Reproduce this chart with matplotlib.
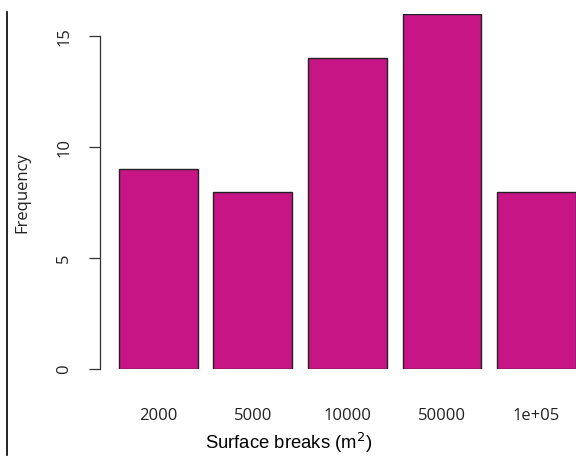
import numpy as np
from matplotlib import pyplot as plt
from matplotlib.lines import Line2D

# bar counts per surface break
breaks = ['2000', '5000', '10000', '50000', '1e+05']
counts = [9, 8, 14, 16, 8]

fig = plt.figure(figsize=(5.76, 4.59), dpi=100)
ax = fig.add_axes([100/576, 90/459, 476/576, 355/459])

# R barplot layout: width 1, space 0.2
pos = 0.2 + np.arange(len(counts)) * 1.2 + 0.5
ax.bar(pos, counts, width=1.0, color='#C71585', edgecolor='#222222', linewidth=1.0)

ax.set_xlim(-0.04, 6.0)
ax.set_ylim(0, 16)

for s in ['top', 'right', 'bottom']:
    ax.spines[s].set_visible(False)
ax.spines['left'].set_bounds(0, 15)
ax.spines['left'].set_linewidth(0.9)
ax.spines['left'].set_color('#333333')

ax.set_yticks([0, 5, 10, 15])
ax.set_yticklabels(['0', '5', '10', '15'], rotation=90, va='center',
                   fontsize=12, family='Open Sans', color='#222222')
ax.tick_params(axis='y', length=8, width=0.9, color='#333333', pad=12)

ax.set_xticks(pos)
ax.set_xticklabels(breaks, fontsize=12, family='Open Sans', color='#222222')
ax.tick_params(axis='x', length=0, pad=28)

fig.text(22/576, 1 - 193/459, 'Frequency', rotation=90, ha='center', va='center',
         fontsize=12, family='Open Sans', color='#222222')
fig.text(289/576, 1 - 443/459, 'Surface breaks (m$^2$)', ha='center', va='center',
         fontsize=13.3, family='Liberation Sans')

# left border line
fig.add_artist(Line2D([7/576, 7/576], [1 - 12/459, 1 - 455/459],
                      transform=fig.transFigure, color='black', linewidth=1.2))

plt.savefig('out.png')
